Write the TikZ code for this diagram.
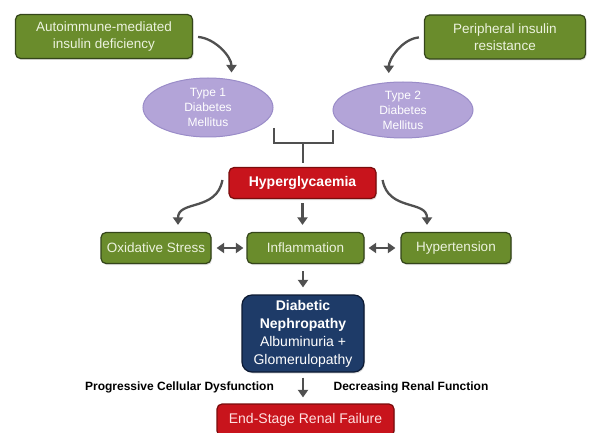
\documentclass[tikz,border=0pt]{standalone}
\usepackage{fontspec}
\setmainfont{Liberation Sans}
\usepackage{tikz}
\usetikzlibrary{arrows.meta,calc,shapes.geometric,shadows}
\definecolor{boxgreen}{HTML}{6A8C2C}
\definecolor{greenline}{HTML}{34451A}
\definecolor{greentext}{HTML}{ECF2DE}
\definecolor{ovalfill}{HTML}{B3A4D8}
\definecolor{ovalline}{HTML}{9A8CC8}
\definecolor{boxred}{HTML}{C8141C}
\definecolor{redline}{HTML}{7A0C0C}
\definecolor{boxblue}{HTML}{1E3B68}
\definecolor{blueline}{HTML}{0C1A33}
\definecolor{arrowgray}{HTML}{505050}
\tikzset{
    greenbox/.style={draw=greenline,fill=boxgreen,line width=1.2pt,rounded corners=5pt,
        text=greentext,align=center,inner sep=0pt,font=\fontsize{13.5}{17}\selectfont,
        drop shadow={shadow xshift=1pt,shadow yshift=-1.5pt,opacity=0.25}},
    ovalbox/.style={ellipse,draw=ovalline,fill=ovalfill,line width=1pt,inner sep=0pt,
        text=white,align=center,font=\fontsize{12}{15}\selectfont},
    redbox/.style={draw=redline,fill=boxred,line width=1.2pt,rounded corners=5pt,
        align=center,inner sep=0pt,font=\fontsize{14}{17}\selectfont,
        drop shadow={shadow xshift=1pt,shadow yshift=-1.5pt,opacity=0.25}},
    bluebox/.style={draw=blueline,fill=boxblue,line width=1.2pt,rounded corners=10pt,
        text=white,align=center,inner sep=0pt,font=\fontsize{14}{18}\selectfont,
        drop shadow={shadow xshift=1pt,shadow yshift=-1.5pt,opacity=0.25}},
    steplabel/.style={font=\fontsize{12}{14}\selectfont\bfseries,text=black,inner sep=0pt},
    myarrow/.style={draw=arrowgray,line width=2.3pt,-{Triangle[width=10pt,length=7.5pt]}},
    dblarrow/.style={draw=arrowgray,line width=2.3pt,
        {Triangle[width=10pt,length=7.5pt]}-{Triangle[width=10pt,length=7.5pt]}},
    bracket/.style={draw=arrowgray,line width=2pt}
}
\begin{document}
\begin{tikzpicture}[x=1pt,y=-1pt]
  \useasboundingbox (0,0) rectangle (592,433);
  % causes and types
  \node[greenbox,minimum width=177pt,minimum height=44pt] (auto) at (104,36.5) {Autoimmune-mediated\\insulin deficiency};
  \node[greenbox,minimum width=161pt,minimum height=44pt] (peri) at (505,37) {Peripheral insulin\\resistance};
  \node[ovalbox,minimum width=130pt,minimum height=59pt] (t1) at (208,107.5) {Type 1\\Diabetes\\Mellitus};
  \node[ovalbox,minimum width=140pt,minimum height=56pt] (t2) at (403,110) {Type 2\\Diabetes\\Mellitus};
  % pathway
  \node[redbox,text=white,font=\fontsize{14}{17}\selectfont\bfseries,minimum width=147pt,minimum height=31pt] (hyp) at (302.5,183) {Hyperglycaemia};
  \node[greenbox,minimum width=110pt,minimum height=31pt] (ox) at (156,248) {Oxidative Stress};
  \node[greenbox,minimum width=117pt,minimum height=31pt] (inf) at (305.5,248) {Inflammation};
  \node[greenbox,minimum width=110pt,minimum height=31pt] (hyt) at (456,248) {Hypertension};
  \node[bluebox,minimum width=122pt,minimum height=77pt] (dn) at (303,333.5) {\textbf{Diabetic}\\\textbf{Nephropathy}\\Albuminuria +\\Glomerulopathy};
  \node[redbox,text=red!12,minimum width=177pt,minimum height=32pt] (esrf) at (305.5,420) {End-Stage Renal Failure};
  \node[steplabel] (pcd) at (179.5,387) {Progressive Cellular Dysfunction};
  \node[steplabel] (drf) at (411,387) {Decreasing Renal Function};
  % connectors
  \draw[myarrow,shorten <=5pt,shorten >=7pt] (auto.east) to[out=-5,in=90] (t1.50);
  \draw[myarrow,shorten <=5pt,shorten >=9pt] (peri.west) to[out=185,in=90] (t2.117);
  \coordinate (b1) at ([yshift=-20.5pt]t1.east);
  \coordinate (b2) at ([yshift=-35.5pt]t1.east);
  \coordinate (b3) at ([yshift=-33pt]t2.west);
  \coordinate (b4) at ([yshift=-20pt]t2.west);
  \coordinate (brk) at ($(b2)!0.5!(b3)$);
  \draw[bracket] (b1) -- (b2) -- (b3) -- (b4);
  \draw[bracket,shorten >=4pt] (brk) -- (brk |- hyp.north);
  \coordinate (hl) at ([xshift=-6pt,yshift=3pt]hyp.west);
  \coordinate (hr) at ([xshift=6pt,yshift=3pt]hyp.east);
  \coordinate (oxt) at ([xshift=22pt]ox.north);
  \coordinate (hyt1) at ([xshift=-29pt]hyt.north);
  \draw[myarrow,shorten >=7pt] (hl) to[out=260,in=90,looseness=1.2] (oxt);
  \draw[myarrow,shorten >=7pt] (hr) to[out=-80,in=90,looseness=1.2] (hyt1);
  \draw[myarrow,shorten <=4pt,shorten >=7pt] (hyp.south) -- (hyp.south |- inf.north);
  \draw[dblarrow,shorten <=5pt,shorten >=3pt] (ox.east) -- (inf.west);
  \draw[dblarrow,shorten <=4pt,shorten >=5pt] (inf.east) -- (hyt.west);
  \draw[myarrow,shorten <=7pt,shorten >=7pt] (dn.north |- inf.south) -- (dn.north);
  \draw[myarrow,shorten <=5pt,shorten >=6pt] (dn.south) -- (dn.south |- esrf.north);
\end{tikzpicture}
\end{document}
